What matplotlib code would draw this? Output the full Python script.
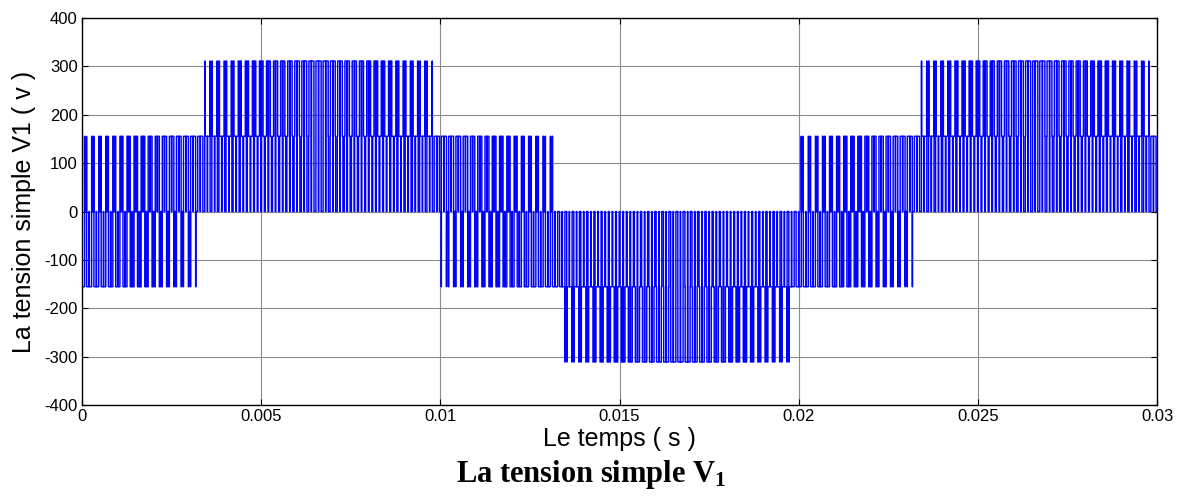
import numpy as np
import matplotlib
matplotlib.use("Agg")
import matplotlib.pyplot as plt

# PWM phase voltage V1, read per carrier cycle (0.2 ms each, 150 cycles over 0.03 s).
# Each cycle is symmetric about its centre: a zero notch of half-width h_in,
# then a band at mid_step out to h_mid, then a band at out_step out to h_out,
# then zero up to the cycle edge.  Half-widths in microseconds.
CARRIER_MS = 0.2
FIRST_CENTRE_MS = 0.1
V_STEP = 155.5   # one level step (Vdc / 3) in volts

h_in = [
    26, 23, 21, 19, 17, 15, 13, 12, 10, 9, 8, 7, 6, 6, 5, 5,
    5, 5, 5, 6, 6, 7, 8, 9, 11, 12, 14, 15, 17, 19, 21, 24, 26,
    27, 24, 22, 20, 18, 16, 14, 12, 11, 10, 8, 7, 7, 6, 5, 5, 5,
    5, 5, 6, 6, 7, 8, 9, 10, 12, 13, 15, 17, 19, 21, 23, 25,
    27, 25, 23, 20, 18, 16, 15, 13, 11, 10, 9, 8, 7, 6, 6, 5, 5,
    5, 5, 6, 6, 7, 8, 9, 10, 11, 13, 14, 16, 18, 20, 22, 24, 27,
    26, 23, 21, 19, 17, 15, 13, 12, 10, 9, 8, 7, 6, 6, 5, 5,
    5, 5, 5, 6, 6, 7, 8, 9, 11, 12, 14, 15, 17, 19, 21, 24, 26,
    27, 24, 22, 20, 18, 16, 14, 12, 11, 10, 8, 7, 7, 6, 5, 5, 5,
]
h_mid = [
    29, 32, 34, 37, 40, 43, 45, 48, 51, 54, 57, 60, 62, 65, 68, 70,
    72, 70, 67, 65, 62, 59, 56, 54, 51, 48, 45, 42, 40, 37, 34, 32, 29,
    27, 31, 34, 36, 39, 42, 45, 47, 50, 53, 56, 59, 61, 64, 67, 69, 73,
    71, 68, 66, 63, 60, 57, 55, 52, 49, 46, 43, 40, 38, 35, 32, 30,
    27, 30, 33, 35, 38, 41, 44, 46, 49, 52, 55, 58, 60, 63, 66, 68, 71,
    73, 69, 66, 64, 61, 58, 55, 53, 50, 47, 44, 41, 39, 36, 33, 31, 27,
    29, 32, 34, 37, 40, 43, 45, 48, 51, 54, 57, 60, 62, 65, 68, 70,
    72, 70, 67, 65, 62, 59, 56, 54, 51, 48, 45, 42, 40, 37, 34, 32, 29,
    27, 31, 34, 36, 39, 42, 45, 47, 50, 53, 56, 59, 61, 64, 67, 69, 73,
]
h_out = [
    95, 95, 94, 94, 93, 92, 91, 90, 88, 87, 85, 83, 81, 79, 77, 75,
    72, 75, 77, 80, 82, 84, 85, 87, 89, 90, 91, 92, 93, 94, 94, 95, 95,
    95, 95, 94, 94, 93, 92, 91, 90, 89, 87, 86, 84, 82, 80, 78, 76, 73,
    74, 77, 79, 81, 83, 85, 87, 88, 90, 91, 92, 93, 94, 94, 95, 95,
    95, 95, 95, 94, 94, 93, 92, 91, 89, 88, 86, 85, 83, 81, 79, 76, 74,
    73, 76, 78, 80, 82, 84, 86, 88, 89, 90, 92, 93, 93, 94, 95, 95, 95,
    95, 95, 94, 94, 93, 92, 91, 90, 88, 87, 85, 83, 81, 79, 77, 75,
    72, 75, 77, 80, 82, 84, 85, 87, 89, 90, 91, 92, 93, 94, 94, 95, 95,
    95, 95, 94, 94, 93, 92, 91, 90, 89, 87, 86, 84, 82, 80, 78, 76, 73,
]
# level of the two bands, in steps of V_STEP
mid_step = [
    1, 1, 1, 1, 1, 1, 1, 1, 1, 1, 1, 1, 1, 1, 1, 1,
    1, 1, 1, 1, 1, 1, 1, 1, 1, 1, 1, 1, 1, 1, 1, 1, 1,
    1, 1, 1, 1, 1, 1, 1, 1, 1, 1, 1, 1, 1, 1, 1, 1, 1,
    1, 1, 1, 1, 1, 1, 1, 1, 1, 1, 1, 1, 1, 1, 1, 1,
    -2, -2, -2, -2, -2, -2, -2, -2, -2, -2, -2, -2, -2, -2, -2, -2, -2,
    -2, -2, -2, -2, -2, -2, -2, -2, -2, -2, -2, -2, -2, -2, -2, -2, -2,
    1, 1, 1, 1, 1, 1, 1, 1, 1, 1, 1, 1, 1, 1, 1, 1,
    1, 1, 1, 1, 1, 1, 1, 1, 1, 1, 1, 1, 1, 1, 1, 1, 1,
    1, 1, 1, 1, 1, 1, 1, 1, 1, 1, 1, 1, 1, 1, 1, 1, 1,
]
out_step = [
    -1, -1, -1, -1, -1, -1, -1, -1, -1, -1, -1, -1, -1, -1, -1, -1,
    2, 2, 2, 2, 2, 2, 2, 2, 2, 2, 2, 2, 2, 2, 2, 2, 2,
    2, 2, 2, 2, 2, 2, 2, 2, 2, 2, 2, 2, 2, 2, 2, 2, 2,
    -1, -1, -1, -1, -1, -1, -1, -1, -1, -1, -1, -1, -1, -1, -1, -1,
    -1, -1, -1, -1, -1, -1, -1, -1, -1, -1, -1, -1, -1, -1, -1, -1, -1,
    -1, -1, -1, -1, -1, -1, -1, -1, -1, -1, -1, -1, -1, -1, -1, -1, -1,
    -1, -1, -1, -1, -1, -1, -1, -1, -1, -1, -1, -1, -1, -1, -1, -1,
    2, 2, 2, 2, 2, 2, 2, 2, 2, 2, 2, 2, 2, 2, 2, 2, 2,
    2, 2, 2, 2, 2, 2, 2, 2, 2, 2, 2, 2, 2, 2, 2, 2, 2,
]

X_TICKS = [0, 0.005, 0.01, 0.015, 0.02, 0.025, 0.03]
X_TICK_LABELS = ["0", "0.005", "0.01", "0.015", "0.02", "0.025", "0.03"]
Y_TICKS = [-400, -300, -200, -100, 0, 100, 200, 300, 400]


def build_waveform():
    """Turn the per-cycle pulse description into step coordinates (ms, V)."""
    edges = []
    for k in range(len(h_in)):
        c = FIRST_CENTRE_MS + CARRIER_MS * k
        a, b, o = h_in[k] / 1000, h_mid[k] / 1000, h_out[k] / 1000
        vm, vo = mid_step[k] * V_STEP, out_step[k] * V_STEP
        edges += [(c - o, vo), (c - b, vm), (c - a, 0.0),
                  (c + a, vm), (c + b, vo), (c + o, 0.0)]

    # drop zero-length bands: keep only the last level at equal times
    clean = []
    for t, v in edges:
        if clean and abs(clean[-1][0] - t) < 1e-9:
            clean[-1] = (t, v)
        else:
            clean.append((t, v))

    xs, ys = [0.0], [0.0]
    cur = 0.0
    for t, v in clean:
        if v == cur:
            continue
        xs += [t, t]
        ys += [cur, v]
        cur = v
    xs.append(30.0)
    ys.append(cur)
    return np.array(xs), np.array(ys)


t_ms, v1 = build_waveform()

plt.rcParams["font.family"] = ["Liberation Sans", "DejaVu Sans"]
plt.rcParams["axes.unicode_minus"] = False
plt.rcParams["mathtext.fontset"] = "custom"
plt.rcParams["mathtext.rm"] = "Liberation Serif"
plt.rcParams["mathtext.bf"] = "Liberation Serif:bold"

fig = plt.figure(figsize=(11.82, 5.03), dpi=100)
ax = fig.add_axes([0.0694, 0.1948, 0.9095, 0.7694])

ax.plot(t_ms / 1000, v1, color="#0000ff", linewidth=1.05)

ax.set_xlim(0, 0.03)
ax.set_ylim(-400, 400)
ax.set_xticks(X_TICKS)
ax.set_xticklabels(X_TICK_LABELS)
ax.set_yticks(Y_TICKS)
ax.tick_params(direction="in", top=True, right=True, length=4,
               labelsize=12, pad=3)
ax.grid(True, color="#8c8c8c", linewidth=0.8)
ax.set_axisbelow(True)
for s in ax.spines.values():
    s.set_linewidth(1.0)

ax.set_xlabel("Le temps ( s )", fontsize=18, labelpad=2)
ax.set_ylabel("La tension simple V1 ( v )", fontsize=18, labelpad=6)

fig.text(0.5, 0.057, r"La tension simple $\mathbf{V_1}$",
         family="Liberation Serif", fontweight="bold", fontsize=22,
         ha="center", va="center")

fig.savefig("out.png", dpi=100)
